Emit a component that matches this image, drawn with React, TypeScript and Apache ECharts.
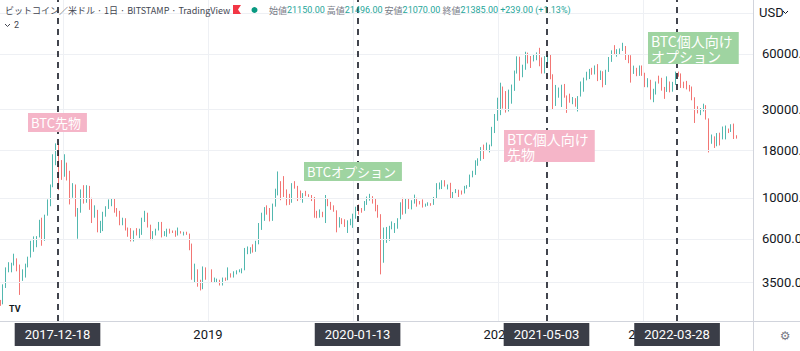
import React, { useEffect, useRef } from "react";
import * as echarts from "echarts";

// Weekly BTC/USD candles (Bitstamp), first week starting 2017-07-24
const firstWeekMonday = "2017-07-24";
const firstOpen = 2760;
const closes = [
  2730, 3250, 4050, 4100, 4380, 4600, 4220, 3700, 3780, 4370, 4780, 5650, 6000, 6130, 7350, 5950, 8000, 9700, 11500, 15000, 19200, 14000, 13700,
  14600, 13800, 11600, 11800, 8200, 8500, 10500, 9600, 11400, 9600, 7900, 8400, 6800, 7000, 8000, 8900, 9400, 9700, 8700, 8200, 7350, 7700, 6750, 6500, 5900, 6550, 6350, 6350, 7700, 8200, 7000, 6300, 6400, 6700, 7300, 6300, 6500, 6700, 6600, 6550, 6300, 6500, 6450, 6450, 6350, 5600, 4000, 4000, 3550, 3250, 3950, 3800,
  4000, 3550, 3550, 3550, 3400, 3650, 3600, 3850, 3800, 3900, 4000, 4000, 4100, 5050, 5050, 5300, 5150, 5650, 7000, 8000, 8750, 8700, 7650, 9000, 10800, 11900, 11300, 10200, 9900, 9500, 11800, 11300, 10300, 10100, 10500, 10400, 10300, 9950, 8100, 7900, 8300, 7950, 9250, 9200, 8800, 8500, 7100, 7550, 7500, 7050, 7150, 7400,
  8050, 8900, 8650, 8600, 9300, 9850, 9900, 9650, 8550, 8000, 5350, 5800, 6250, 6800, 6900, 7100, 7700, 8900, 8700, 9700, 8900, 9450, 9750, 9350, 9300, 9050, 9100, 9250, 9200, 9950, 11800, 11900, 11900, 11700, 11700, 10300, 10650, 10950, 10750, 10650, 11350, 11500, 13100, 13750, 15450, 15950, 18400, 18150, 19150, 19250, 23800, 26250, 33000,
  38150, 36000, 32250, 33500, 38900, 47100, 57400, 45200, 51000, 59000, 57500, 55700, 57200, 60000, 56200, 49100, 57800, 58200, 46400, 34700, 35600, 35800, 39000, 35500, 34600, 34200, 34250, 31800, 35400, 41500, 43800, 47000, 49300, 48900, 51800, 45000, 48300, 43200, 48200, 57500, 61500, 60800, 61300, 63300, 65500, 59000, 57300, 49400, 50100, 46700, 50800, 47300,
  41900, 43100, 36300, 38500, 42400, 42100, 38400, 37700, 38800, 37800, 41300, 46800, 46400, 42200, 40400, 39500, 37700, 34300, 30100, 29500, 29500, 29900, 26600, 20550, 21000, 19300, 20850, 20800, 22600, 23300, 23200, 24400, 21500, 21385,
];
const highs = [
  2800, 3400, 4200, 4480, 4450, 4980, 4700, 4350, 4100, 4400, 4800, 5850, 6180, 6200, 7600, 7800, 8100, 9800, 11800, 17200, 19700, 19500, 16000,
  17200, 15500, 14000, 12000, 11800, 8800, 11100, 11700, 11700, 11600, 10000, 9100, 8600, 7500, 8400, 9000, 9800, 9950, 9900, 8800, 8500, 7800, 7750, 6900, 6850, 6650, 6850, 6800, 7800, 8500, 8300, 7150, 6600, 6800, 7400, 7400, 6600, 6800, 6800, 6650, 6650, 6900, 6600, 6550, 6550, 6400, 5650, 4400, 4100, 3600, 4250, 4200,
  4100, 4100, 3700, 3650, 3600, 3700, 3700, 4200, 3900, 4000, 4050, 4100, 4150, 5350, 5450, 5400, 5600, 5850, 7300, 8300, 8900, 9100, 8800, 9300, 11200, 13880, 12300, 13100, 11100, 10500, 12000, 12300, 11600, 10950, 10600, 10900, 10450, 10350, 10100, 8500, 8650, 8400, 10350, 9900, 9500, 9100, 8550, 7850, 7750, 7650, 7550, 7700,
  8200, 8950, 9200, 8800, 9600, 10150, 10500, 10200, 9950, 9150, 8150, 6900, 6950, 7050, 7450, 7300, 7750, 9450, 10000, 9900, 9900, 9700, 10400, 10000, 9600, 9800, 9300, 9450, 9350, 10100, 12000, 12100, 12450, 12450, 11800, 12050, 10750, 11150, 11050, 10950, 11600, 11700, 13350, 14000, 15950, 16350, 18800, 19400, 19900, 19400, 24200, 28400, 34800,
  41950, 40000, 37800, 38500, 41000, 48800, 58300, 58000, 52500, 61700, 61000, 58500, 60000, 61200, 64800, 57500, 58400, 59500, 59600, 46600, 40800, 39500, 40900, 41300, 35800, 36600, 35100, 34600, 35500, 42600, 44700, 48100, 49800, 50500, 52000, 52900, 48800, 48400, 49300, 57800, 62800, 67000, 63700, 64300, 69000, 66300, 59300, 59100, 51900, 50500, 52000, 52000,
  47500, 44400, 43500, 38900, 42600, 45800, 44600, 39800, 45400, 42600, 42400, 48200, 48200, 47100, 42500, 42900, 40800, 40000, 35000, 31300, 30600, 32300, 31700, 26900, 22000, 21500, 22400, 22500, 24300, 24600, 23700, 25000, 25200, 21800,
];
const lows = [
  2600, 2650, 3250, 3950, 3950, 4300, 4000, 2980, 3550, 3700, 4200, 4750, 5100, 5400, 6100, 5500, 5850, 8000, 9000, 11400, 15000, 11000, 12500,
  13000, 12400, 9200, 10000, 7900, 6000, 8300, 9300, 9400, 8600, 7300, 7800, 6500, 6450, 6600, 7900, 8700, 9000, 8300, 7900, 7100, 7100, 6650, 6150, 5800, 5800, 6250, 6050, 6300, 7400, 6900, 5900, 5900, 6250, 6650, 6100, 6200, 6150, 6400, 6450, 6150, 6250, 6400, 6250, 6300, 5200, 3600, 3500, 3300, 3150, 3200, 3600,
  3700, 3500, 3500, 3500, 3350, 3350, 3550, 3580, 3700, 3700, 3850, 3950, 3900, 4050, 4950, 4980, 5050, 5100, 5600, 6700, 7500, 8100, 7450, 7500, 8950, 10300, 9700, 10100, 9100, 9150, 9400, 11200, 9600, 9800, 9400, 10200, 10100, 9600, 7800, 7750, 7800, 7850, 7300, 9000, 8600, 8400, 6500, 6900, 7200, 6950, 6450, 7100,
  6870, 7700, 8100, 8300, 8500, 9150, 9650, 9300, 8450, 7800, 3850, 4450, 5700, 5850, 6750, 6450, 6800, 7650, 8100, 8200, 8700, 8650, 9300, 8950, 9200, 8850, 8950, 9050, 9050, 9150, 9900, 11100, 11150, 11500, 11100, 9900, 9900, 10600, 10100, 10400, 10550, 11200, 11450, 12900, 13300, 14900, 15850, 16200, 18100, 17600, 19000, 22400, 26100,
  28000, 30400, 28900, 29300, 32300, 37900, 47000, 43000, 44900, 49300, 53300, 50400, 54700, 55500, 51500, 47000, 47100, 53000, 43800, 30000, 31400, 34800, 31000, 34800, 28800, 32700, 32100, 31100, 29300, 35300, 37500, 43200, 43900, 46300, 46500, 42800, 43400, 39600, 40800, 48000, 54400, 59500, 58000, 59400, 62300, 55700, 53500, 42000, 46800, 45500, 45700, 45700,
  39700, 39600, 34000, 32900, 36200, 41500, 38000, 34300, 37400, 37200, 37500, 40800, 45200, 39300, 39200, 38600, 37600, 33700, 25400, 28600, 28000, 29300, 26500, 17600, 19600, 18600, 19000, 19200, 20700, 20700, 22400, 22700, 20800, 20900,
];

const priceTicks = [3500, 6000, 10000, 18000, 30000, 60000];
const topGridTick = 100000;
const yearTicks = ["2018-01-01", "2019-01-01", "2020-01-01", "2021-01-01", "2022-01-01"];
const yearLabels = ["", "2019", "", "2021", "2022"];
const eventDates = ["2017-12-18", "2020-01-13", "2021-05-03", "2022-03-28"];
const lastPrice = 21385;
const headerOHLC = { open: "21150.00", high: "21496.00", low: "21070.00", close: "21385.00", change: "+239.00", pct: "(+1.13%)" };

const DAY = 86400000;
const toMs = (s: string) => {
  const [y, m, d] = s.split("-").map(Number);
  return Date.UTC(y, m - 1, d);
};

const UP = "#26a69a";
const DOWN = "#ef5350";
const FONT = "Roboto, 'Noto Sans CJK JP', sans-serif";

export default function App() {
  const ref = useRef<HTMLDivElement>(null);
  useEffect(() => {
    if (!ref.current) return;
    const chart = echarts.init(ref.current, undefined, { renderer: "svg" });
    const t0 = toMs(firstWeekMonday) + 3 * DAY;
    const candles = closes.map((c, i) => {
      const o = i === 0 ? firstOpen : closes[i - 1];
      return [t0 + i * 7 * DAY, o, c, Math.min(lows[i], o, c), Math.max(highs[i], o, c)];
    });
    const anchor = toMs("2017-12-18");
    const xMin = anchor - 144.9 * DAY;
    const xMax = anchor + 1752.3 * DAY;

    const gridLineStyle = { color: "#eef0f4", width: 1, type: "solid" as const };
    const gridMarks: any[] = [
      ...priceTicks.map((v) => ({
        yAxis: v,
        label: {
          show: true,
          position: "end",
          formatter: v.toFixed(2),
          color: "#131722",
          fontSize: 13,
          fontFamily: FONT,
          distance: 9,
        },
      })),
      { yAxis: topGridTick, label: { show: false } },
      ...yearTicks.map((d, i) => ({
        xAxis: toMs(d),
        label: yearLabels[i]
          ? { show: true, position: "start", formatter: yearLabels[i], color: "#131722", fontSize: 13, fontFamily: FONT, distance: 7 }
          : { show: false },
      })),
    ];

    const eventMarks: any[] = [
      ...eventDates.map((d) => ({
        xAxis: toMs(d),
        label: {
          show: true,
          position: "start",
          formatter: d,
          color: "#ffffff",
          backgroundColor: "#3a3d47",
          padding: [4, 10],
          lineHeight: 15,
          fontSize: 13,
          fontFamily: FONT,
          distance: 2,
        },
      })),
      {
        yAxis: lastPrice,
        lineStyle: { opacity: 0 },
        label: {
          show: true,
          position: "end",
          formatter: lastPrice.toFixed(2),
          color: "#ffffff",
          backgroundColor: UP,
          padding: [3, 4, 3, 9],
          lineHeight: 14,
          fontSize: 13,
          fontFamily: FONT,
          distance: 0,
        },
      },
    ];

    const annot = (text: string, x: number, y: number, bg: string, size: number, lh: number, pv: number) => ({
      type: "text",
      x,
      y,
      z: 100,
      zlevel: 1,
      style: {
        text,
        fill: "#ffffff",
        font: `${size}px 'Noto Sans CJK JP', sans-serif`,
        backgroundColor: bg,
        padding: [pv, 6, pv, 3],
        lineHeight: lh,
      },
    });
    const PINK = "#f5b5c8";
    const GREEN = "#9fd4a1";

    chart.setOption({
      animation: false,
      backgroundColor: "#ffffff",
      grid: { left: 0, right: 47, top: 0, bottom: 30 },
      xAxis: { type: "time", min: xMin, max: xMax, show: false },
      yAxis: { type: "log", logBase: 10, min: 2153, max: 117600, show: false, position: "right" },
      series: [
        {
          type: "line",
          data: [],
          z: 1,
          silent: true,
          markLine: { silent: true, symbol: ["none", "none"], lineStyle: gridLineStyle, data: gridMarks, animation: false },
        },
        {
          type: "candlestick",
          z: 2,
          barWidth: 0.8,
          data: candles,
          itemStyle: { color: UP, color0: DOWN, borderColor: UP, borderColor0: DOWN, borderWidth: 0.8 },
        },
        {
          type: "line",
          data: [],
          z: 5,
          silent: true,
          markLine: {
            silent: true,
            symbol: ["none", "none"],
            lineStyle: { color: "#131722", width: 1.6, type: [6, 5] },
            data: eventMarks,
            animation: false,
          },
        },
      ],
      graphic: [
        { type: "line", shape: { x1: 753.5, y1: 0, x2: 753.5, y2: 351 }, style: { stroke: "#d1d4dc", lineWidth: 1 }, z: 20 },
        { type: "line", shape: { x1: 0, y1: 321.5, x2: 800, y2: 321.5 }, style: { stroke: "#d1d4dc", lineWidth: 1 }, z: 20 },
        {
          type: "text",
          x: 5,
          y: 10,
          z: 30,
          style: {
            text: "ビットコイン／米ドル · 1日 · BITSTAMP · TradingView",
            fill: "#434651",
            font: "9px 'Noto Sans CJK JP', Roboto, sans-serif",
            verticalAlign: "middle",
          },
        },
        { type: "polygon", z: 30, shape: { points: [[233, 5], [241, 5], [238, 9.5], [241, 14], [233, 14]] }, style: { fill: "#f23645" } },
        { type: "circle", z: 30, shape: { cx: 254.5, cy: 10, r: 3 }, style: { fill: "#089981" } },
        {
          type: "text",
          x: 269,
          y: 10,
          z: 30,
          style: {
            text: `{l|始値}{v|${headerOHLC.open}} {l|高値}{v|${headerOHLC.high}} {l|安値}{v|${headerOHLC.low}} {l|終値}{v|${headerOHLC.close}} {v|${headerOHLC.change} ${headerOHLC.pct}}`,
            verticalAlign: "middle",
            font: "9px 'Noto Sans CJK JP', sans-serif",
            rich: {
              l: { fill: "#787b86", fontSize: 9, fontFamily: "'Noto Sans CJK JP', sans-serif" },
              v: { fill: UP, fontSize: 9, fontFamily: "Roboto, sans-serif" },
            },
          },
        },
        { type: "polyline", z: 30, shape: { points: [[5, 24], [7.5, 26.5], [10, 24]] }, style: { stroke: "#434651", lineWidth: 1, fill: null } },
        { type: "text", z: 30, x: 14, y: 25, style: { text: "2", fill: "#434651", font: "9px Roboto, sans-serif", verticalAlign: "middle" } },
        { type: "text", z: 30, x: 759, y: 12, style: { text: "USD", fill: "#131722", font: "13px Roboto, sans-serif", verticalAlign: "middle" } },
        { type: "polyline", z: 30, shape: { points: [[783, 11], [785.5, 13.5], [788, 11]] }, style: { stroke: "#131722", lineWidth: 1, fill: null } },
        { type: "text", z: 30, x: 9, y: 309, style: { text: "TV", fill: "#131722", font: "bold 9px Roboto, sans-serif", verticalAlign: "middle" } },
        { type: "text", z: 30, x: 785, y: 336, style: { text: "⚙", fill: "#787b86", font: "12px 'DejaVu Sans', sans-serif", align: "center", verticalAlign: "middle" } },
        annot("BTC先物", 28, 113, PINK, 13, 15, 2),
        annot("BTCオプション", 304, 162, GREEN, 13, 15, 2),
        annot("BTC個人向け\n先物", 504, 130, PINK, 14, 15, 1),
        annot("BTC個人向け\nオプション", 648, 32, GREEN, 14, 15, 1),
      ],
    } as any);
    return () => chart.dispose();
  }, []);
  return <div ref={ref} style={{ position: "absolute", left: 0, top: 0, width: 800, height: 351 }} />;
}
